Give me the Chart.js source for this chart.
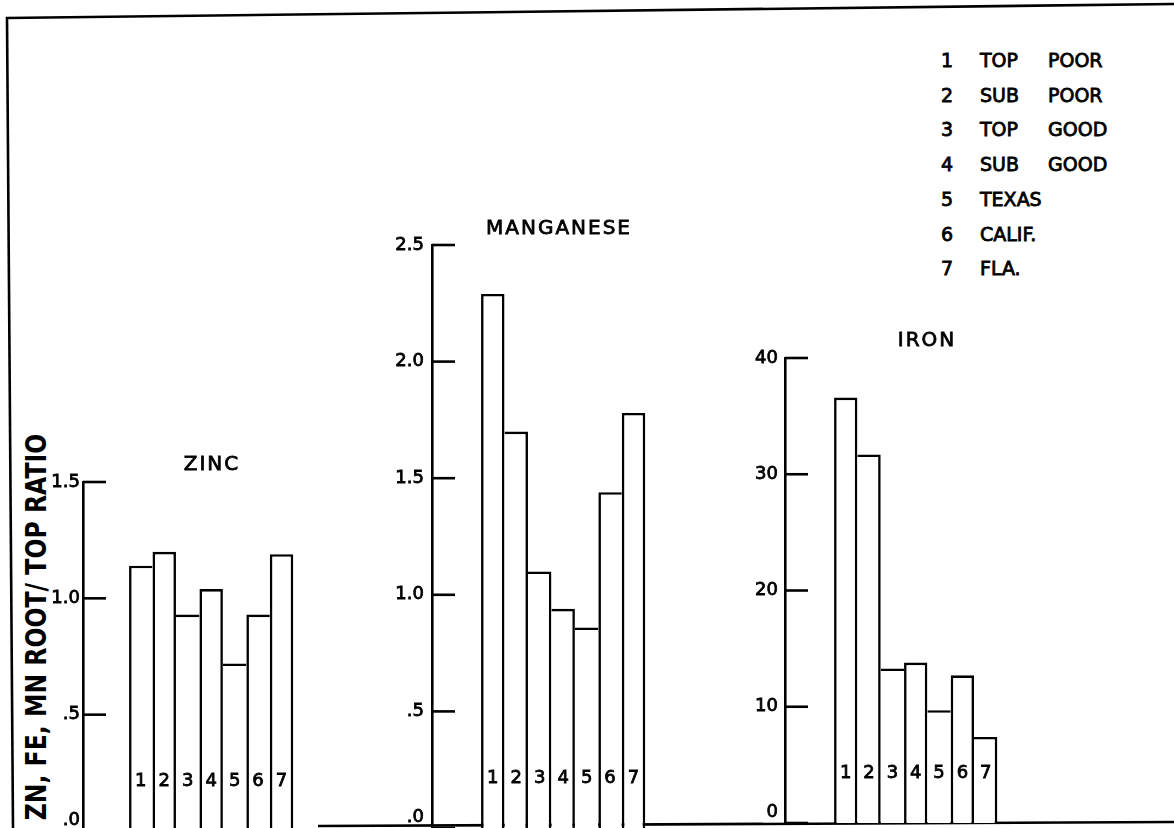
<!doctype html>
<html>

<head>
    <meta charset="utf-8">
    <title>Zn, Fe, Mn root / top ratio</title>
    <script src="https://cdn.jsdelivr.net/npm/chart.js"></script>
    <style>
        body {
            margin: 0;
            width: 1174px;
            height: 828px;
            overflow: hidden;
            background: #fff;
            position: relative;
            font-family: 'DejaVu Sans';
            color: #000;
        }

        .title {
            position: absolute;
            font-size: 20px;
            line-height: 20px;
            letter-spacing: 2px;
            white-space: nowrap;
            -webkit-text-stroke: 0.8px #000;
            transform: translate(-50%, -50%);
        }

        .legend {
            position: absolute;
            font-size: 19px;
            line-height: 20px;
            white-space: nowrap;
            -webkit-text-stroke: 0.8px #000;
        }

        #ylabel {
            position: absolute;
            left: 37px;
            top: 626.5px;
            font-weight: bold;
            font-size: 28px;
            line-height: 28px;
            white-space: nowrap;
        }
    </style>
</head>

<body>
    <svg width="1174" height="828" style="position:absolute;left:0;top:0">
        <line x1="6" y1="18" x2="1174" y2="4" stroke="#000" stroke-width="2.6" />
        <line x1="7" y1="17" x2="13" y2="828" stroke="#000" stroke-width="2.6" />
        <line x1="318" y1="826" x2="1174" y2="822" stroke="#000" stroke-width="2.6" />
    </svg>
    <div id="ylabel">ZN, FE, MN ROOT/ TOP RATIO</div>
    <script>
        // bar numbers and what they stand for
        const categories = ['1', '2', '3', '4', '5', '6', '7']
        const legendNames = [['TOP', 'POOR'], ['SUB', 'POOR'], ['TOP', 'GOOD'], ['SUB', 'GOOD'], ['TEXAS', ''], ['CALIF.', ''], ['FLA.', '']]

        // root / top ratios
        const zinc = [1.14, 1.20, 0.93, 1.04, 0.72, 0.93, 1.19]
        const manganese = [2.29, 1.70, 1.10, 0.94, 0.86, 1.44, 1.78]
        const iron = [36.6, 31.7, 13.3, 13.8, 9.7, 12.7, 7.4]

        const zincTicks = ['.0', '.5', '1.0', '1.5']
        const manganeseTicks = ['.0', '.5', '1.0', '1.5', '2.0', '2.5']
        const ironTicks = ['0', '10', '20', '30', '40']

        Chart.defaults.font.family = "'DejaVu Sans'"
        Chart.defaults.color = '#000'

        const LW = 2.6
        const PAD = 40
        const AXIS_W = 60

        // where each little plot sits on the page
        const panels = [
            { title: 'ZINC', values: zinc, ticks: zincTicks, max: 1.5, step: 0.5, axisX: 83, topY: 482, zeroY: 831, plotW: 222, xMin: -1.463, pad: 3, titleX: 212, titleY: 463 },
            { title: 'MANGANESE', values: manganese, ticks: manganeseTicks, max: 2.5, step: 0.5, axisX: 432, topY: 245, zeroY: 828, plotW: 225, xMin: -1.591, pad: 8, titleX: 559, titleY: 227 },
            { title: 'IRON', values: iron, ticks: ironTicks, max: 40, step: 10, axisX: 785, topY: 358, zeroY: 823, plotW: 224, xMin: -1.604, pad: 7, titleX: 927, titleY: 339 },
        ]

        // one shared line between neighbours, drawn by the taller bar
        function edges(vals, i) {
            return {
                top: LW,
                bottom: 0,
                left: (i === 0 || vals[i] >= vals[i - 1]) ? LW : 0,
                right: (i === vals.length - 1 || vals[i] > vals[i + 1]) ? LW : 0
            }
        }

        const innerTicks = {
            id: 'innerTicks',
            afterDraw(chart) {
                const y = chart.scales.y
                const ctx = chart.ctx
                const x0 = chart.chartArea.left
                ctx.save()
                ctx.strokeStyle = '#000'
                ctx.lineWidth = LW
                y.ticks.forEach(t => {
                    const py = y.getPixelForValue(t.value)
                    ctx.beginPath()
                    ctx.moveTo(x0, py)
                    ctx.lineTo(x0 + 23, py)
                    ctx.stroke()
                })
                ctx.restore()
            }
        }

        const barNumbers = {
            id: 'barNumbers',
            afterDatasetsDraw(chart) {
                const ctx = chart.ctx
                const y0 = chart.scales.y.getPixelForValue(0)
                ctx.save()
                ctx.font = "18px 'DejaVu Sans'"
                ctx.fillStyle = '#000'
                ctx.strokeStyle = '#000'
                ctx.lineWidth = 0.8
                ctx.textAlign = 'center'
                ctx.textBaseline = 'middle'
                chart.getDatasetMeta(0).data.forEach((bar, i) => {
                    ctx.fillText(categories[i], bar.x, y0 - 50)
                    ctx.strokeText(categories[i], bar.x, y0 - 50)
                })
                ctx.restore()
            }
        }

        panels.forEach(p => {
            const canvas = document.createElement('canvas')
            canvas.width = AXIS_W + p.plotW
            canvas.height = p.zeroY - p.topY + 2 * PAD
            canvas.style.position = 'absolute'
            canvas.style.left = (p.axisX - AXIS_W) + 'px'
            canvas.style.top = (p.topY - PAD) + 'px'
            document.body.appendChild(canvas)

            new Chart(canvas, {
                type: 'bar',
                data: {
                    datasets: [{
                        data: p.values.map((v, i) => ({ x: i + 1, y: v })),
                        backgroundColor: '#fff',
                        borderColor: '#000',
                        borderWidth: ctx => edges(p.values, ctx.dataIndex),
                        borderSkipped: false,
                        inflateAmount: 0,
                        barPercentage: 1,
                        categoryPercentage: 1
                    }]
                },
                options: {
                    responsive: false,
                    animation: false,
                    layout: { padding: { top: PAD, bottom: PAD, left: 0, right: 0 } },
                    plugins: {
                        legend: { display: false },
                        tooltip: { enabled: false }
                    },
                    scales: {
                        x: {
                            type: 'linear',
                            display: false,
                            offset: false,
                            min: p.xMin,
                            max: 8,
                            ticks: { stepSize: 1, includeBounds: false }
                        },
                        y: {
                            min: 0,
                            max: p.max,
                            grid: { display: false, drawTicks: false },
                            border: { display: true, color: '#000', width: LW },
                            ticks: {
                                stepSize: p.step,
                                padding: p.pad,
                                color: '#000',
                                textStrokeColor: '#000',
                                textStrokeWidth: 0.8,
                                font: { size: 18, lineHeight: 1.2 },
                                // the zero label sits a little above the base line
                                callback: (v, i) => i === 0 ? [p.ticks[i], ''] : p.ticks[i]
                            },
                            afterFit: s => { s.width = AXIS_W }
                        }
                    }
                },
                plugins: [innerTicks, barNumbers]
            })

            const t = document.createElement('div')
            t.className = 'title'
            t.style.left = p.titleX + 'px'
            t.style.top = p.titleY + 'px'
            t.textContent = p.title
            document.body.appendChild(t)
        })

        // legend, top right
        legendNames.forEach((n, i) => {
            const top = 60 + i * 34.7 - 10
            const cols = [[941, categories[i]], [980, n[0]], [1048, n[1]]]
            cols.forEach(([x, txt]) => {
                if (!txt) return
                const d = document.createElement('div')
                d.className = 'legend'
                d.style.left = x + 'px'
                d.style.top = top + 'px'
                d.textContent = txt
                document.body.appendChild(d)
            })
        })

        // squeeze the axis title to the length it has on the plot
        const yl = document.getElementById('ylabel')
        const s = 387 / yl.offsetWidth
        yl.style.transform = `translate(-50%, -50%) rotate(-90deg) scaleX(${s})`
    </script>
</body>

</html>
